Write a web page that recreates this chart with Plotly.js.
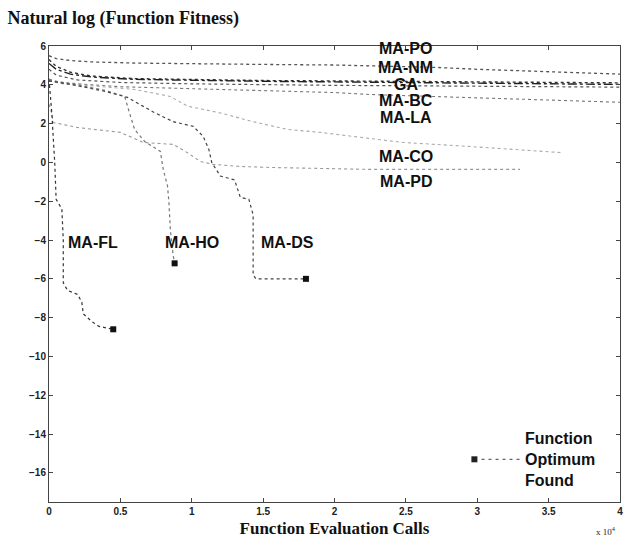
<!DOCTYPE html>
<html>
<head>
<meta charset="utf-8">
<script src="https://cdn.plot.ly/plotly-3.0.1.min.js"></script>
<style>html,body{margin:0;padding:0;background:#fff;}#chart{width:627px;height:546px;}</style>
</head>
<body>
<div id="chart"></div>
<script>
// Function evaluation calls (x 10^4) and natural log of fitness
const poX = [0, 0.05, 0.15, 0.3, 0.6, 1.0, 1.5, 2.0, 2.5, 2.7, 3.0, 3.5, 4.0];
const poY = [5.5, 5.35, 5.25, 5.18, 5.12, 5.08, 5.05, 5.02, 4.95, 4.9, 4.8, 4.68, 4.55];
const nmX = [0, 0.05, 0.15, 0.3, 0.6, 1.0, 1.5, 2.0, 3.0, 4.0];
const nmY = [5.3, 4.95, 4.65, 4.45, 4.32, 4.27, 4.22, 4.2, 4.15, 4.1];
const gaX = [0, 0.05, 0.15, 0.3, 0.6, 1.0, 1.5, 2.0, 3.0, 4.0];
const gaY = [5.1, 4.8, 4.55, 4.4, 4.28, 4.22, 4.18, 4.15, 4.08, 4.02];
const bcX = [0, 0.05, 0.2, 0.5, 1.0, 1.5, 2.0, 2.5, 3.0, 4.0];
const bcY = [4.8, 4.5, 4.25, 4.12, 4.05, 4.0, 3.97, 3.95, 3.92, 3.88];
const laX = [0, 0.05, 0.2, 0.5, 1.0, 1.5, 2.0, 2.25, 2.7, 3.2, 4.0];
const laY = [4.3, 4.15, 4.05, 3.9, 3.8, 3.7, 3.6, 3.5, 3.4, 3.3, 3.1];
const coX = [0, 0.1, 0.3, 0.6, 0.85, 0.97, 1.2, 1.43, 1.67, 1.9, 2.13, 2.48, 2.95, 3.42, 3.6];
const coY = [4.2, 4.05, 3.95, 3.76, 3.4, 2.9, 2.55, 2.1, 1.7, 1.55, 1.34, 1.03, 0.82, 0.57, 0.5];
const pdX = [0, 0.02, 0.03, 0.2, 0.5, 0.66, 0.87, 0.97, 1.06, 1.15, 1.32, 1.55, 2.25, 3.3];
const pdY = [3.0, 2.5, 2.06, 1.8, 1.55, 1.03, 0.93, 0.5, 0.05, -0.1, -0.2, -0.26, -0.36, -0.36];
const flX = [0, 0.02, 0.04, 0.05, 0.09, 0.1, 0.1, 0.13, 0.2, 0.23, 0.24, 0.3, 0.35, 0.43, 0.45];
const flY = [4.3, 2.5, 0, -1.9, -2.4, -4.0, -6.2, -6.6, -6.8, -7.2, -7.8, -8.2, -8.45, -8.6, -8.6];
const hoX = [0, 0.2, 0.4, 0.53, 0.57, 0.6, 0.67, 0.78, 0.8, 0.83, 0.84, 0.85, 0.87, 0.88];
const hoY = [4.25, 4.0, 3.7, 3.4, 2.4, 1.7, 1.08, 0.57, -0.36, -1.2, -2.06, -3.45, -4.8, -5.2];
const dsX = [0, 0.2, 0.4, 0.55, 0.73, 0.87, 1.01, 1.08, 1.12, 1.14, 1.2, 1.3, 1.34, 1.4, 1.43, 1.43, 1.45, 1.8];
const dsY = [4.2, 3.95, 3.65, 3.35, 2.6, 2.1, 1.86, 1.34, 0.67, 0.0, -0.7, -0.9, -1.8, -1.9, -2.7, -5.8, -6.0, -6.0];
const optX = [0.45, 0.88, 1.8];
const optY = [-8.6, -5.2, -6.0];
const seriesLabels = ["MA-PO", "MA-NM", "GA", "MA-BC", "MA-LA", "MA-CO", "MA-PD"];
const labelY = [5.88, 4.9, 4.02, 3.2, 2.32, 0.31, -0.98];
const lowLabels = ["MA-FL", "MA-HO", "MA-DS"];
const lowLabelX = [0.31, 1.0, 1.67];
const lowLabelY = -4.12;
const xTicks = [0, 0.5, 1, 1.5, 2, 2.5, 3, 3.5, 4];
const xTickText = ["0", "0.5", "1", "1.5", "2", "2.5", "3", "3.5", "4"];
const yTicks = [-16, -14, -12, -10, -8, -6, -4, -2, 0, 2, 4, 6];
const legendLines = ["Function", "Optimum", "Found"];
const legendPoint = {x: [2.98], y: [-15.3]};
const legendLineX = [3.03, 3.31];

function line(x, y, color, width, dash) {
  return {x: x, y: y, type: 'scatter', mode: 'lines', hoverinfo: 'skip',
          line: {color: color, width: width, dash: dash || 'dot'}, showlegend: false};
}
const traces = [
  line(poX, poY, '#555', 1.3),
  line(nmX, nmY, '#333', 1.4),
  line(gaX, gaY, '#222', 1.4, 'dashdot'),
  line(bcX, bcY, '#555', 1.2),
  line(laX, laY, '#777', 1.1),
  line(coX, coY, '#aaa', 1.1),
  line(pdX, pdY, '#999', 1.1),
  line(flX, flY, '#333', 1.2),
  line(hoX, hoY, '#777', 1.2),
  line(dsX, dsY, '#444', 1.2),
  {x: optX, y: optY, type: 'scatter', mode: 'markers', hoverinfo: 'skip', showlegend: false,
   marker: {symbol: 'square', size: 6, color: '#111'}},
  {x: legendPoint.x, y: legendPoint.y, type: 'scatter', mode: 'markers', hoverinfo: 'skip', showlegend: false,
   marker: {symbol: 'square', size: 6, color: '#222'}},
  line(legendLineX, [legendPoint.y[0], legendPoint.y[0]], '#666', 1.2, '3px,4px')
];

const labFont = {family: 'Liberation Sans, Arial, sans-serif', size: 16, color: '#111', weight: 'bold'};
const annotations = [];
seriesLabels.forEach((t, i) => annotations.push({x: 2.5, y: labelY[i], text: '<b>' + t + '</b>', showarrow: false,
  xanchor: 'center', yanchor: 'middle', font: labFont}));
lowLabels.forEach((t, i) => annotations.push({x: lowLabelX[i], y: lowLabelY, text: '<b>' + t + '</b>', showarrow: false,
  xanchor: 'center', yanchor: 'middle', font: labFont}));
annotations.push({x: 3.32, y: -15.3, text: '<b>' + legendLines.join('<br>') + '</b>', showarrow: false,
  xanchor: 'left', yanchor: 'middle', align: 'left', font: labFont});
annotations.push({xref: 'paper', yref: 'paper', x: 0.975, y: -0.045, text: 'x 10<sup>4</sup>', showarrow: false,
  xanchor: 'center', yanchor: 'top', font: {family: 'Liberation Serif, serif', size: 9, color: '#222'}});

const axisCommon = {showgrid: false, zeroline: false, showline: true, mirror: 'ticks', linecolor: '#444',
  linewidth: 1, ticks: 'inside', ticklen: 4, tickcolor: '#444',
  tickfont: {family: 'Liberation Sans, Arial, sans-serif', size: 10, color: '#222', weight: 'bold'}};

const layout = {
  width: 627, height: 546,
  margin: {l: 49, r: 7, t: 46, b: 44},
  paper_bgcolor: '#fff', plot_bgcolor: '#fff',
  title: {text: '<b>Natural log (Function Fitness)</b>', x: 0.012, xanchor: 'left', y: 0.968, yanchor: 'middle',
    font: {family: 'Liberation Serif, Times New Roman, serif', size: 18, color: '#111'}},
  xaxis: Object.assign({}, axisCommon, {range: [0, 4], tickvals: xTicks, ticktext: xTickText,
    title: {text: '<b>Function Evaluation Calls</b>', standoff: 6,
      font: {family: 'Liberation Serif, Times New Roman, serif', size: 17, color: '#111'}}}),
  yaxis: Object.assign({}, axisCommon, {range: [-17.5, 6], tickvals: yTicks}),
  annotations: annotations
};
Plotly.newPlot('chart', traces, layout, {displayModeBar: false, staticPlot: true});
</script>
</body>
</html>
